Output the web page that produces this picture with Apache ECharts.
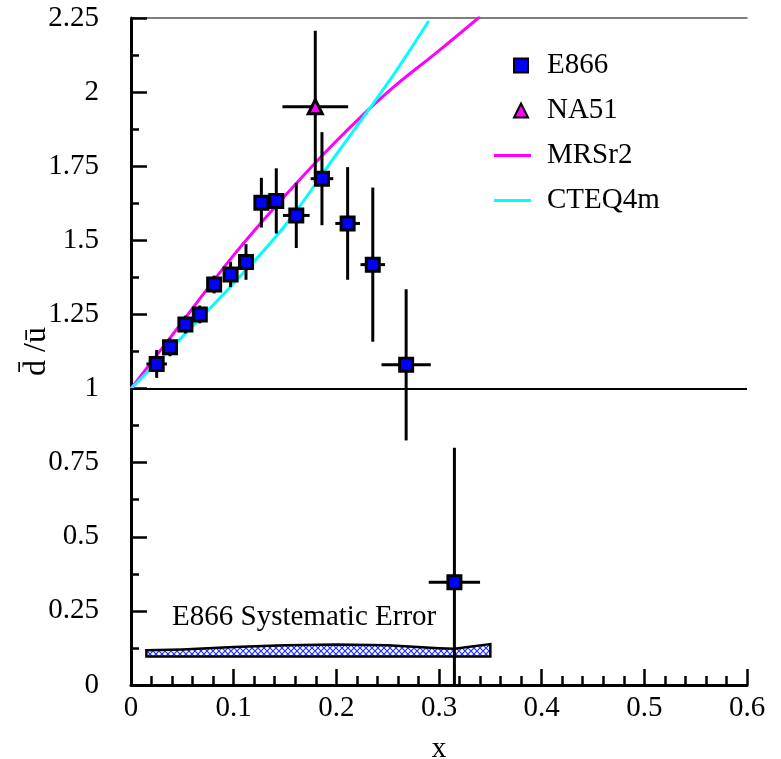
<!DOCTYPE html>
<html>
<head>
<meta charset="utf-8">
<script src="https://cdn.jsdelivr.net/npm/echarts@6/dist/echarts.min.js"></script>
<style>
  html, body { margin: 0; padding: 0; background: #fff; }
  #chart { width: 781px; height: 759px; }
</style>
</head>
<body>
<div id="chart"></div>
<script>
// E866 points
const e866X = [0.025, 0.038, 0.053, 0.067, 0.081, 0.097, 0.112, 0.127, 0.1415, 0.161, 0.186, 0.211, 0.2355, 0.268, 0.315];
const e866Y = [1.083, 1.139, 1.216, 1.25, 1.351, 1.385, 1.427, 1.627, 1.633, 1.584, 1.708, 1.557, 1.418, 1.08, 0.347];
const e866YErr = [0.047, 0.03, 0.03, 0.03, 0.03, 0.043, 0.06, 0.084, 0.11, 0.11, 0.157, 0.19, 0.26, 0.255, 0.453];
const e866XErr = [0.01, 0.005, 0.005, 0.005, 0.005, 0.005, 0.005, 0.005, 0.005, 0.013, 0.011, 0.012, 0.012, 0.024, 0.025];

// NA51 point
const na51X = [0.1795];
const na51Y = [1.951];
const na51YErr = [0.256];
const na51XErr = [0.032];

// parametrisations
const mrsX = [0, 0.02, 0.05, 0.1, 0.15, 0.2, 0.25, 0.3, 0.34];
const mrsY = [1, 1.09, 1.225, 1.45, 1.65, 1.835, 2.0, 2.14, 2.255];
const cteqX = [0, 0.02, 0.05, 0.1, 0.15, 0.2, 0.25, 0.29];
const cteqY = [1, 1.07, 1.175, 1.355, 1.55, 1.79, 2.03, 2.24];

// systematic error band
const bandX = [0.015, 0.05, 0.1, 0.15, 0.2, 0.25, 0.3, 0.315, 0.35];
const bandTop = [0.117, 0.12, 0.128, 0.134, 0.137, 0.134, 0.124, 0.122, 0.138];
const bandBottom = [0.096, 0.096, 0.096, 0.096, 0.096, 0.096, 0.096, 0.096, 0.096];

const xTickLabels = ['0', '0.1', '0.2', '0.3', '0.4', '0.5', '0.6'];
const yTickLabels = ['0', '0.25', '0.5', '0.75', '1', '1.25', '1.5', '1.75', '2', '2.25'];

const FONT = 'Liberation Serif';

// blue cross hatch for the band
const hatch = document.createElement('canvas');
hatch.width = 6;
hatch.height = 6;
const hc = hatch.getContext('2d');
hc.fillStyle = '#fff';
hc.fillRect(0, 0, 6, 6);
hc.strokeStyle = '#2233ff';
hc.lineWidth = 1.2;
hc.beginPath();
hc.moveTo(0, 0); hc.lineTo(6, 6);
hc.moveTo(6, 0); hc.lineTo(0, 6);
hc.stroke();

function errData(xs, ys, xe, ye) {
  return xs.map((x, i) => [x, ys[i], xe[i], ye[i]]);
}

function renderErr(params, api) {
  const x = api.value(0), y = api.value(1), dx = api.value(2), dy = api.value(3);
  const lo = api.coord([x, y - dy]);
  const hi = api.coord([x, y + dy]);
  const l = api.coord([x - dx, y]);
  const r = api.coord([x + dx, y]);
  const st = { stroke: '#000', lineWidth: 3 };
  return {
    type: 'group',
    children: [
      { type: 'line', shape: { x1: lo[0], y1: lo[1], x2: hi[0], y2: hi[1] }, style: st },
      { type: 'line', shape: { x1: l[0], y1: l[1], x2: r[0], y2: r[1] }, style: st }
    ]
  };
}

function renderBand(params, api) {
  if (params.dataIndex !== 0) return;
  const pts = [];
  for (let i = 0; i < bandX.length; i++) pts.push(api.coord([bandX[i], bandTop[i]]));
  for (let i = bandX.length - 1; i >= 0; i--) pts.push(api.coord([bandX[i], bandBottom[i]]));
  const txt = api.coord([0.04, 0.228]);
  return {
    type: 'group',
    children: [
      {
        type: 'polygon',
        shape: { points: pts },
        style: { fill: { image: hatch, repeat: 'repeat' }, stroke: '#000', lineWidth: 2.5 }
      },
      {
        type: 'text',
        x: txt[0],
        y: txt[1],
        style: {
          text: 'E866 Systematic Error',
          fontFamily: FONT,
          fontSize: 29,
          fill: '#000',
          verticalAlign: 'middle',
          align: 'left'
        }
      }
    ]
  };
}

// legend icons: square / triangle shifted right inside a 37px slot, thin bar for lines
const iconSquare = 'path://M0,5M26.4,5M14.3,0H24.3V10H14.3Z';
const iconTriangle = 'path://M0,10M26.4,10M14.3,10L19.3,0L24.3,10Z';
const iconLine = 'path://M0,0H37V3H0Z';

const chart = echarts.init(document.getElementById('chart'));

const option = {
  animation: false,
  backgroundColor: '#fff',
  textStyle: { fontFamily: FONT },
  grid: { left: 131, right: 34, top: 18, bottom: 74, containLabel: false, outerBoundsMode: 'none' },
  legend: {
    orient: 'vertical',
    left: 488,
    top: 46,
    itemWidth: 37,
    itemHeight: 14,
    itemGap: 16,
    textStyle: { fontFamily: FONT, fontSize: 29, color: '#000', padding: [0, 0, 0, 11] },
    data: [
      { name: 'E866', icon: iconSquare },
      { name: 'NA51', icon: iconTriangle },
      { name: 'MRSr2', icon: iconLine },
      { name: 'CTEQ4m', icon: iconLine }
    ]
  },
  xAxis: [
    {
      type: 'value',
      min: 0,
      max: 0.6,
      interval: 0.1,
      name: 'x',
      nameLocation: 'middle',
      nameGap: 50,
      nameMoveOverlap: false,
      nameTextStyle: { fontFamily: FONT, fontSize: 29, color: '#000' },
      splitLine: { show: false },
      axisLine: { lineStyle: { color: '#000', width: 3 } },
      axisTick: { inside: true, length: 16, lineStyle: { color: '#000', width: 2.5 } },
      minorTick: { show: true, splitNumber: 5, length: 9, lineStyle: { color: '#000', width: 2.5 } },
      axisLabel: {
        margin: 9,
        color: '#000',
        fontFamily: FONT,
        fontSize: 29,
        formatter: v => xTickLabels[Math.round(v * 10)]
      }
    },
    {
      type: 'value',
      position: 'top',
      min: 0,
      max: 0.6,
      axisLine: { show: true, lineStyle: { color: '#555', width: 1.5 } },
      axisTick: { show: false },
      axisLabel: { show: false },
      splitLine: { show: false }
    }
  ],
  yAxis: {
    type: 'value',
    min: 0,
    max: 2.25,
    interval: 0.25,
    name: 'd\u0304 /u\u0304',
    nameLocation: 'middle',
    nameRotate: 90,
    nameGap: 78,
    nameMoveOverlap: false,
    nameTextStyle: { fontFamily: FONT, fontSize: 32, color: '#000' },
    splitLine: { show: false },
    axisLine: { show: true, lineStyle: { color: '#000', width: 3 } },
    axisTick: { inside: true, length: 16, lineStyle: { color: '#000', width: 2.5 } },
    minorTick: { show: true, splitNumber: 2, length: 8, lineStyle: { color: '#000', width: 2.5 } },
    axisLabel: {
      margin: 32,
      color: '#000',
      fontFamily: FONT,
      fontSize: 29,
      formatter: v => yTickLabels[Math.round(v * 4)]
    }
  },
  series: [
    {
      name: 'band',
      type: 'custom',
      renderItem: renderBand,
      data: bandX.map((x, i) => [x, bandTop[i]]),
      silent: true,
      z: 1
    },
    {
      name: 'MRSr2',
      type: 'line',
      data: mrsX.map((x, i) => [x, mrsY[i]]),
      smooth: 0.4,
      symbol: 'none',
      color: '#ff00ff',
      lineStyle: { color: '#ff00ff', width: 3 },
      z: 2,
      markLine: {
        silent: true,
        symbol: 'none',
        label: { show: false },
        lineStyle: { color: '#000', width: 2, type: 'solid' },
        data: [{ yAxis: 1 }]
      }
    },
    {
      name: 'CTEQ4m',
      type: 'line',
      data: cteqX.map((x, i) => [x, cteqY[i]]),
      smooth: 0.4,
      symbol: 'none',
      color: '#00ffff',
      lineStyle: { color: '#00ffff', width: 3 },
      z: 2
    },
    {
      name: 'e866err',
      type: 'custom',
      renderItem: renderErr,
      clip: true,
      data: errData(e866X, e866Y, e866XErr, e866YErr),
      z: 3
    },
    {
      name: 'na51err',
      type: 'custom',
      renderItem: renderErr,
      clip: true,
      data: errData(na51X, na51Y, na51XErr, na51YErr),
      z: 3
    },
    {
      name: 'E866',
      type: 'scatter',
      symbol: 'rect',
      symbolSize: 13,
      data: e866X.map((x, i) => [x, e866Y[i]]),
      itemStyle: { color: '#0000ff', borderColor: '#000', borderWidth: 3, opacity: 1 },
      z: 4
    },
    {
      name: 'NA51',
      type: 'scatter',
      symbol: 'triangle',
      symbolSize: 14,
      data: na51X.map((x, i) => [x, na51Y[i]]),
      itemStyle: { color: '#ff00ff', borderColor: '#000', borderWidth: 3, opacity: 1 },
      z: 4
    }
  ]
};

chart.setOption(option);
</script>
</body>
</html>
